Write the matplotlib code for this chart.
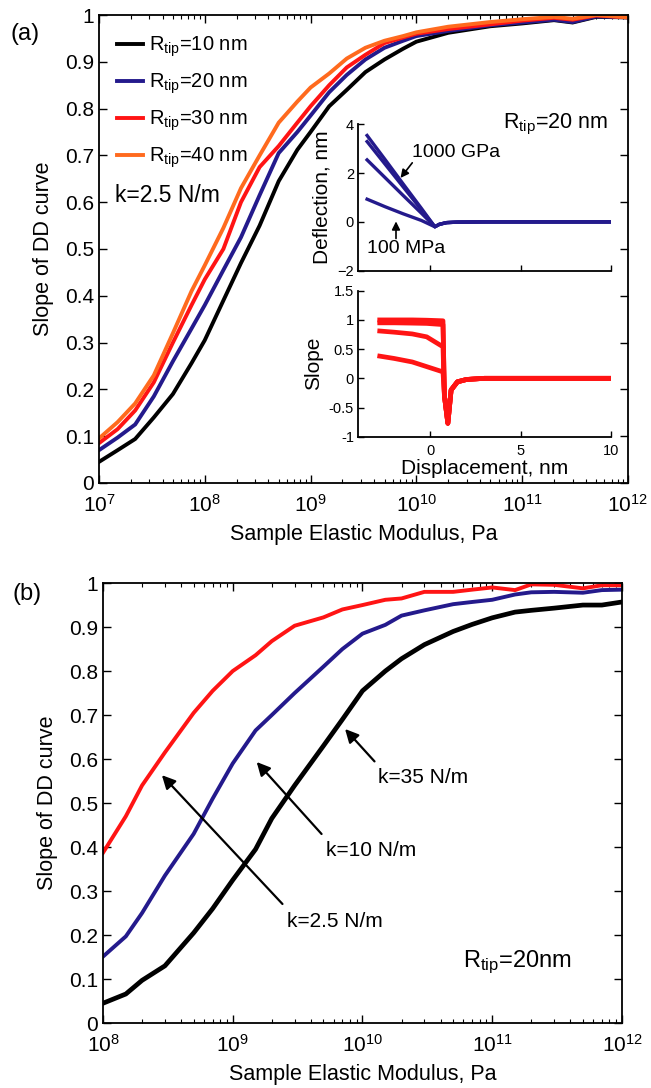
"""
DD-curve slope vs. sample elastic modulus, two panels:
 (a) four tip radii at k = 2.5 N/m, with deflection / slope insets
 (b) three cantilever stiffnesses at R_tip = 20 nm
"""

import matplotlib
matplotlib.use("Agg")
import matplotlib.pyplot as plt
from matplotlib.ticker import LogLocator, FormatStrFormatter, NullFormatter, FixedLocator

plt.rcParams['font.family'] = ['Liberation Sans', 'DejaVu Sans']
plt.rcParams['mathtext.fontset'] = 'custom'
plt.rcParams['mathtext.rm'] = 'Liberation Sans'
plt.rcParams['mathtext.it'] = 'Liberation Sans:italic'
plt.rcParams['mathtext.bf'] = 'Liberation Sans:bold'

# ── Panel (a) data: k = 2.5 N/m ──
mod_a = [1e7, 1.5e7, 2.2e7, 3.3e7, 5e7, 7.5e7, 1e8, 1.5e8, 2.2e8, 3.3e8, 5e8, 7.5e8,
         1e9, 1.5e9, 2.2e9, 3.3e9, 5e9, 7.5e9, 1e10, 2e10, 5e10, 1e11, 2e11, 3e11, 5e11, 1e12]
slope_r10 = [0.045, 0.07, 0.094, 0.14, 0.19, 0.256, 0.305, 0.39, 0.47, 0.55, 0.645, 0.712,
             0.75, 0.805, 0.84, 0.878, 0.905, 0.928, 0.943, 0.962, 0.976, 0.982, 0.989, 0.984, 0.996, 0.995]
slope_r20 = [0.07, 0.097, 0.125, 0.185, 0.26, 0.33, 0.38, 0.455, 0.525, 0.615, 0.705, 0.75,
             0.785, 0.835, 0.872, 0.905, 0.93, 0.945, 0.955, 0.966, 0.978, 0.984, 0.99, 0.985, 0.997, 0.995]
slope_r30 = [0.085, 0.115, 0.155, 0.215, 0.30, 0.38, 0.435, 0.50, 0.60, 0.675, 0.72, 0.77,
             0.805, 0.85, 0.888, 0.915, 0.94, 0.952, 0.96, 0.97, 0.98, 0.988, 0.994, 0.99, 0.999, 0.995]
slope_r40 = [0.095, 0.13, 0.17, 0.23, 0.32, 0.41, 0.465, 0.545, 0.63, 0.70, 0.77, 0.815,
             0.845, 0.875, 0.907, 0.93, 0.945, 0.955, 0.963, 0.975, 0.985, 0.991, 0.996, 0.992, 1.0, 0.995]
labels_a = ["R$_{\\rm tip}$=10 nm", "R$_{\\rm tip}$=20 nm", "R$_{\\rm tip}$=30 nm", "R$_{\\rm tip}$=40 nm"]

# ── Inset data (R_tip = 20 nm) ──
disp_defl = [-3.5, -2.5, -1.5, -0.5, 0.25, 0.5, 0.9, 1.5, 3.0, 10.0]
defl_1000gpa = [3.54, 2.55, 1.55, 0.56, -0.2, -0.1, -0.03, -0.01, 0.0, 0.0]
defl_mid1    = [3.29, 2.36, 1.43, 0.50, -0.2, -0.1, -0.03, -0.01, 0.0, 0.0]
defl_mid2    = [2.54, 1.81, 1.08, 0.36, -0.2, -0.1, -0.03, -0.01, 0.0, 0.0]
defl_100mpa  = [0.93, 0.62, 0.33, 0.06, -0.2, -0.1, -0.03, -0.01, 0.0, 0.0]

disp_slope = [-2.8, -2.0, -1.0, -0.2, 0.7, 0.78, 0.97, 1.15, 1.5, 2.0, 3.0, 10.0]
sl_1000gpa = [1.0, 1.0, 1.0, 0.995, 0.985, -0.3, -0.77, -0.2, -0.06, -0.02, 0.0, 0.0]
sl_mid1    = [0.95, 0.95, 0.945, 0.94, 0.92, -0.3, -0.77, -0.2, -0.06, -0.02, 0.0, 0.0]
sl_mid2    = [0.81, 0.79, 0.76, 0.71, 0.54, -0.3, -0.77, -0.2, -0.06, -0.02, 0.0, 0.0]
sl_100mpa  = [0.38, 0.34, 0.28, 0.20, 0.11, -0.3, -0.77, -0.2, -0.06, -0.02, 0.0, 0.0]

# ── Panel (b) data: R_tip = 20 nm ──
mod_b = [1e8, 1.5e8, 2e8, 3e8, 5e8, 7e8, 1e9, 1.5e9, 2e9, 3e9, 5e9, 7e9, 1e10,
         1.5e10, 2e10, 3e10, 5e10, 7e10, 1e11, 1.5e11, 2e11, 3e11, 5e11, 7e11, 1e12]
slope_k35 = [0.045, 0.066, 0.097, 0.13, 0.205, 0.26, 0.325, 0.395, 0.465, 0.54, 0.63, 0.69, 0.755,
             0.80, 0.828, 0.86, 0.89, 0.906, 0.921, 0.934, 0.938, 0.943, 0.95, 0.95, 0.957]
slope_k10 = [0.151, 0.197, 0.25, 0.335, 0.43, 0.51, 0.59, 0.665, 0.70, 0.75, 0.81, 0.85, 0.885,
             0.905, 0.926, 0.938, 0.952, 0.957, 0.962, 0.974, 0.979, 0.98, 0.978, 0.984, 0.985]
slope_k25 = [0.387, 0.47, 0.54, 0.615, 0.705, 0.755, 0.80, 0.836, 0.868, 0.903, 0.922, 0.94, 0.95,
             0.962, 0.965, 0.98, 0.98, 0.985, 0.99, 0.984, 0.997, 0.996, 0.988, 0.995, 0.995]

# ── Styles ──
C_BLACK  = "black"
C_BLUE   = "#241a8c"
C_RED    = "#ff1414"
C_ORANGE = "#ff6a1e"
TICK_FS  = 15
LABEL_FS = 15.5


def style_log_axes(ax):
    ax.set_xscale("log")
    ax.xaxis.set_major_locator(LogLocator(base=10, numticks=20))
    ax.xaxis.set_minor_locator(LogLocator(base=10, subs=range(2, 10), numticks=100))
    ax.xaxis.set_minor_formatter(NullFormatter())
    ax.set_ylim(0, 1)
    ax.yaxis.set_major_locator(FixedLocator([i / 10 for i in range(11)]))
    ax.yaxis.set_major_formatter(FormatStrFormatter("%g"))
    ax.tick_params(which="both", direction="in", top=True, right=True, labelsize=TICK_FS)
    ax.tick_params(which="major", length=6, width=1.0)
    ax.tick_params(which="minor", length=3, width=0.8)
    ax.tick_params(axis="x", which="major", pad=8)
    for sp in ax.spines.values():
        sp.set_linewidth(1.3)


fig = plt.figure(figsize=(6.51, 10.88), dpi=100)

# ── Panel (a) ──
ax_a = fig.add_axes([0.152, 0.5561, 0.8126, 0.4301])
style_log_axes(ax_a)
ax_a.set_xlim(1e7, 1e12)
for ys, col, lab in zip([slope_r10, slope_r20, slope_r30, slope_r40],
                        [C_BLACK, C_BLUE, C_RED, C_ORANGE], labels_a):
    ax_a.plot(mod_a, ys, color=col, lw=2.8, label=lab, solid_joinstyle="miter")
ax_a.set_xlabel("Sample Elastic Modulus, Pa", fontsize=LABEL_FS, labelpad=6)
ax_a.set_ylabel("Slope of DD curve", fontsize=LABEL_FS, labelpad=8)
ax_a.legend(loc="upper left", bbox_to_anchor=(0.0, 0.997), frameon=False, fontsize=14.5,
            handlelength=1.3, handletextpad=0.3, labelspacing=0.62, borderpad=0.4)
ax_a.text(0.030, 0.601, "k=2.5 N/m", transform=ax_a.transAxes, fontsize=16.5,
          ha="left", va="baseline")
fig.text(10 / 651, 1 - 34 / 1088, "(a)", fontsize=17, ha="left", va="center")
fig.text(503 / 651, 1 - 128.3 / 1088, "R$_{\\rm tip}$=20 nm", fontsize=15.5,
         ha="left", va="baseline")

# inset: deflection
ax_d = fig.add_axes([0.550, 0.7512, 0.3886, 0.1346])
ax_d.patch.set_alpha(0)
for ys in [defl_1000gpa, defl_mid1, defl_mid2, defl_100mpa]:
    ax_d.plot(disp_defl, ys, color=C_BLUE, lw=2.4)
ax_d.set_xlim(-4, 10)
ax_d.set_ylim(-2, 4)
ax_d.set_xticks([0, 5, 10])
ax_d.set_xticklabels([])
ax_d.set_yticks([-2, 0, 2, 4])
ax_d.set_ylabel("Deflection, nm", fontsize=15, labelpad=4)
small_arrow = dict(arrowstyle="-|>", color="k", lw=1.2, mutation_scale=12, shrinkA=0, shrinkB=0)
ax_d.annotate("", xy=(-1.65, 1.8), xytext=(-1.0, 2.42), arrowprops=small_arrow)
ax_d.text(-1.0, 2.83, "1000 GPa", fontsize=14, ha="left", va="center")
ax_d.annotate("", xy=(-1.9, 0.02), xytext=(-1.9, -0.68), arrowprops=small_arrow)
ax_d.text(-3.5, -1.1, "100 MPa", fontsize=14, ha="left", va="center")

# inset: slope
ax_s = fig.add_axes([0.550, 0.5986, 0.3886, 0.1342])
ax_s.patch.set_alpha(0)
for ys in [sl_1000gpa, sl_mid1, sl_mid2, sl_100mpa]:
    ax_s.plot(disp_slope, ys, color=C_RED, lw=3.4)
ax_s.set_xlim(-4, 10)
ax_s.set_ylim(-1, 1.5)
ax_s.set_xticks([0, 5, 10])
ax_s.set_yticks([-1, -0.5, 0, 0.5, 1, 1.5])
ax_s.yaxis.set_major_formatter(FormatStrFormatter("%g"))
ax_s.set_xlabel("Displacement, nm", fontsize=15, labelpad=1)
ax_s.set_ylabel("Slope", fontsize=15, labelpad=4)

for ax in (ax_d, ax_s):
    ax.spines["top"].set_visible(False)
    ax.spines["right"].set_visible(False)
    for sp in ("left", "bottom"):
        ax.spines[sp].set_linewidth(1.3)
    ax.tick_params(direction="in", labelsize=10.5, length=4, width=1.0, pad=3)
ax_s.tick_params(axis="x", pad=5)

# ── Panel (b) ──
ax_b = fig.add_axes([0.1582, 0.0597, 0.7972, 0.4044])
style_log_axes(ax_b)
ax_b.set_xlim(1e8, 1e12)
ax_b.plot(mod_b, slope_k35, color=C_BLACK, lw=3.4)
ax_b.plot(mod_b, slope_k10, color=C_BLUE, lw=2.8)
ax_b.plot(mod_b, slope_k25, color=C_RED, lw=2.8)
ax_b.set_xlabel("Sample Elastic Modulus, Pa", fontsize=LABEL_FS, labelpad=6)
ax_b.set_ylabel("Slope of DD curve", fontsize=LABEL_FS, labelpad=8)

arrow_kw = dict(arrowstyle="-|>", color="k", lw=1.6, mutation_scale=20)
ax_b.annotate("", xy=(2.75e8, 0.568), xytext=(2.5e9, 0.266), arrowprops=arrow_kw)
ax_b.text(2.6e9, 0.23, "k=2.5 N/m", fontsize=15, ha="left", va="center")
ax_b.annotate("", xy=(1.48e9, 0.598), xytext=(5.0e9, 0.425), arrowprops=arrow_kw)
ax_b.text(5.2e9, 0.393, "k=10 N/m", fontsize=15, ha="left", va="center")
ax_b.annotate("", xy=(7.1e9, 0.673), xytext=(1.28e10, 0.59), arrowprops=arrow_kw)
ax_b.text(1.32e10, 0.557, "k=35 N/m", fontsize=15, ha="left", va="center")
ax_b.text(0.694, 0.128, "R$_{\\rm tip}$=20nm", transform=ax_b.transAxes, fontsize=17,
          ha="left", va="baseline")
fig.text(12 / 651, 1 - 594 / 1088, "(b)", fontsize=17, ha="left", va="center")

fig.savefig("out.png", dpi=100)
